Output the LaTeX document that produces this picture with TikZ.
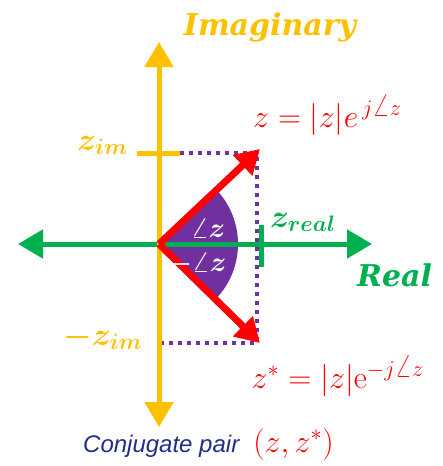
\RequirePackage{fix-cm}
\documentclass[tikz,border=0pt]{standalone}
\usepackage{amsmath}
\usepackage{bm}
\usepackage{fontspec}
\setsansfont{Liberation Sans}
\newfontfamily\axisfont{DejaVu Serif}
\usetikzlibrary{arrows.meta}
\definecolor{imyellow}{HTML}{FFC000}
\definecolor{regreen}{HTML}{00B050}
\definecolor{anglepurple}{HTML}{7030A0}
\definecolor{pairblue}{HTML}{1F2E8A}

\begin{document}
\begin{tikzpicture}[
  x=1pt, y=-1pt,
  every node/.style={inner sep=0pt},
  axisline/.style={line width=5pt, {Triangle[width=28pt,length=25pt]}-{Triangle[width=28pt,length=25pt]}},
  phasor/.style={red, line width=7pt, -{Triangle[width=27pt,length=24pt]}},
  guide/.style={anglepurple, line width=4pt, dash pattern=on 4pt off 5pt},
  tickmark/.style={line width=5pt},
  axislabel/.style={font=\axisfont\fontsize{30}{34}\selectfont\bfseries\itshape},
  partlabel/.style={font=\fontsize{32}{36}\selectfont},
  eqlabel/.style={text=red, font=\fontsize{32}{36}\selectfont},
  anglelabel/.style={text=white, font=\fontsize{28}{32}\selectfont}
]
\useasboundingbox (0,0) rectangle (443,466);
\coordinate (origin) at (159,244);
\coordinate (imtop) at (159,42);
\coordinate (imbot) at (159,427);
\coordinate (releft) at (18,244);
\coordinate (reright) at (372,244);
\coordinate (zpt) at (260,149);
\coordinate (zconj) at (260,343);
\coordinate (imtickl) at (137,153);
\coordinate (imtickr) at (180,153);
\coordinate (corner) at (257,153);
\coordinate (conjcorner) at (257,343);
\coordinate (conjstart) at (159,343);
\coordinate (retickt) at (261,225);
\coordinate (retickb) at (261,267);

\fill[anglepurple] (origin) -- ++(-43:79) arc (-43:43:79) -- cycle;
\draw[guide] (imtickr) -- (corner) -- (conjcorner) -- (conjstart);
\draw[axisline, regreen] (releft) -- (reright);
\draw[tickmark, regreen] (retickt) -- (retickb);
\draw[axisline, imyellow] (imtop) -- (imbot);
\draw[tickmark, imyellow] (imtickl) -- (imtickr);
\draw[phasor] (origin) -- (zpt);
\draw[phasor] (origin) -- (zconj);

\node[axislabel, text=imyellow, anchor=base] (imag) at (270,35) {Imaginary};
\node[axislabel, text=regreen, anchor=base west] (real) at (357,286) {Real};
\node[partlabel, text=regreen, anchor=base west] (zreal) at (270,227) {$\bm{z_{real}}$};
\node[partlabel, text=imyellow, anchor=base west] (zim) at (77,150) {$\bm{z_{im}}$};
\node[partlabel, text=imyellow, anchor=base west] (mzim) at (63,345) {$\bm{-z_{im}}$};
\node[eqlabel, anchor=base west] (zeq) at (253,127) {$z = |z|e^{\,j\angle z}$};
\node[eqlabel, anchor=base east] (zconjeq) at (424,388) {$z^{*} = |z|\mathrm{e}^{-j\angle z}$};
\node[anglelabel, anchor=base west] (angpos) at (191,237) {$\bm{\angle z}$};
\node[anglelabel, anchor=base west] (angneg) at (167,271) {$\bm{-\angle z}$};
\node[anchor=base west, font=\fontsize{24}{28}\selectfont] (pair) at (83,452) {\textcolor{pairblue}{\sffamily\itshape Conjugate pair}\hspace{14pt}\textcolor{red}{\fontsize{32}{36}\selectfont$(z, z^{*})$}};
\end{tikzpicture}
\end{document}
